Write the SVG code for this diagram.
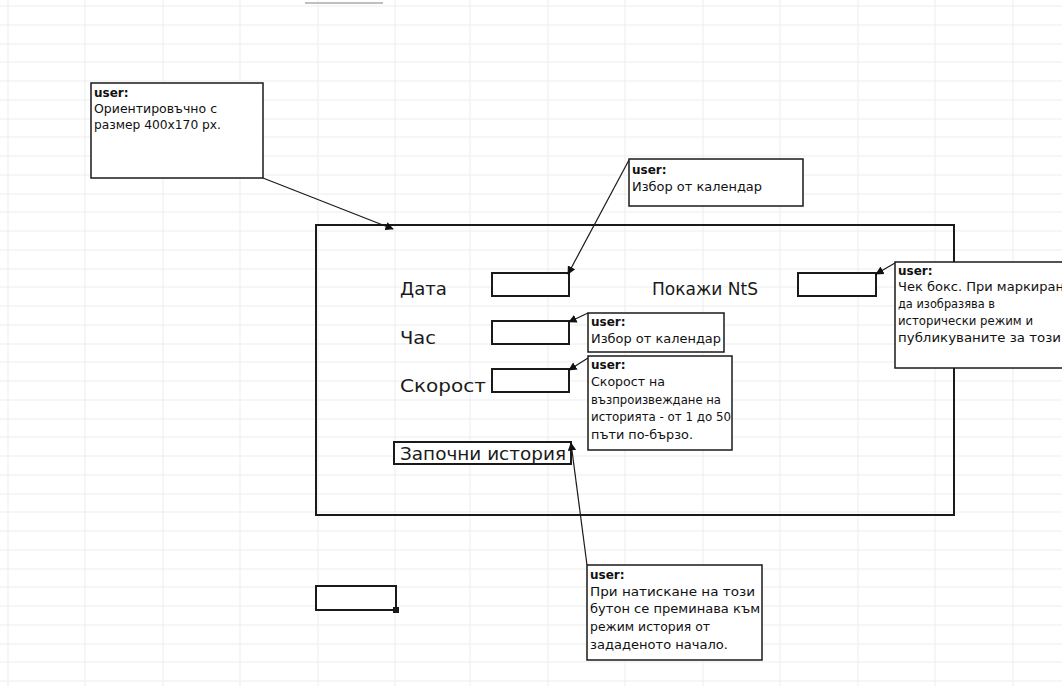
<svg xmlns="http://www.w3.org/2000/svg" width="1062" height="686" viewBox="0 0 1062 686">
<style>
.grid line{stroke:#ededed;stroke-width:1}
.frame{fill:none;stroke:#1a1a1a;stroke-width:2}
.inp{fill:#fff;stroke:#1a1a1a;stroke-width:2}
.note{fill:#fff;stroke:#1a1a1a;stroke-width:1.5}
.lbl{font-family:"DejaVu Sans","Noto Sans",sans-serif;font-size:17px;fill:#1a1a1a}
.nt{font-family:"DejaVu Sans","Noto Sans",sans-serif;font-size:12px;fill:#111}
.nh{font-weight:bold}
.conn{stroke:#1a1a1a;stroke-width:1.2;fill:none}
</style>
<defs>
<marker id="arr" viewBox="0 0 10 10" refX="9" refY="5" markerWidth="7" markerHeight="7" orient="auto">
<path d="M0,0 L10,5 L0,10 z" fill="#111"/>
</marker>
<clipPath id="clipR"><rect x="0" y="0" width="1062" height="686"/></clipPath>
</defs>
<rect x="0" y="0" width="1062" height="686" fill="#fff"/>
<g class="grid">
<line x1="8" y1="0" x2="8" y2="686"/><line x1="85" y1="0" x2="85" y2="686"/><line x1="163" y1="0" x2="163" y2="686"/><line x1="240" y1="0" x2="240" y2="686"/><line x1="318" y1="0" x2="318" y2="686"/><line x1="395" y1="0" x2="395" y2="686"/><line x1="470" y1="0" x2="470" y2="686"/><line x1="548" y1="0" x2="548" y2="686"/><line x1="625" y1="0" x2="625" y2="686"/><line x1="703" y1="0" x2="703" y2="686"/><line x1="780" y1="0" x2="780" y2="686"/><line x1="858" y1="0" x2="858" y2="686"/><line x1="935" y1="0" x2="935" y2="686"/><line x1="1013" y1="0" x2="1013" y2="686"/>
<line x1="0" y1="6" x2="1062" y2="6"/><line x1="0" y1="25" x2="1062" y2="25"/><line x1="0" y1="44" x2="1062" y2="44"/><line x1="0" y1="62" x2="1062" y2="62"/><line x1="0" y1="81" x2="1062" y2="81"/><line x1="0" y1="100" x2="1062" y2="100"/><line x1="0" y1="119" x2="1062" y2="119"/><line x1="0" y1="137" x2="1062" y2="137"/><line x1="0" y1="156" x2="1062" y2="156"/><line x1="0" y1="175" x2="1062" y2="175"/><line x1="0" y1="194" x2="1062" y2="194"/><line x1="0" y1="212" x2="1062" y2="212"/><line x1="0" y1="231" x2="1062" y2="231"/><line x1="0" y1="250" x2="1062" y2="250"/><line x1="0" y1="269" x2="1062" y2="269"/><line x1="0" y1="287" x2="1062" y2="287"/><line x1="0" y1="306" x2="1062" y2="306"/><line x1="0" y1="325" x2="1062" y2="325"/><line x1="0" y1="344" x2="1062" y2="344"/><line x1="0" y1="362" x2="1062" y2="362"/><line x1="0" y1="381" x2="1062" y2="381"/><line x1="0" y1="400" x2="1062" y2="400"/><line x1="0" y1="419" x2="1062" y2="419"/><line x1="0" y1="437" x2="1062" y2="437"/><line x1="0" y1="456" x2="1062" y2="456"/><line x1="0" y1="475" x2="1062" y2="475"/><line x1="0" y1="494" x2="1062" y2="494"/><line x1="0" y1="512" x2="1062" y2="512"/><line x1="0" y1="531" x2="1062" y2="531"/><line x1="0" y1="550" x2="1062" y2="550"/><line x1="0" y1="569" x2="1062" y2="569"/><line x1="0" y1="587" x2="1062" y2="587"/><line x1="0" y1="606" x2="1062" y2="606"/><line x1="0" y1="625" x2="1062" y2="625"/><line x1="0" y1="644" x2="1062" y2="644"/><line x1="0" y1="662" x2="1062" y2="662"/><line x1="0" y1="681" x2="1062" y2="681"/>
</g>
<line x1="305" y1="3" x2="383" y2="3" stroke="#aaa" stroke-width="1.5"/>

<g id="frame"><rect class="frame" x="316" y="225" width="638" height="290"/></g>

<g id="date"><text class="lbl" x="400" y="295" textLength="47" lengthAdjust="spacingAndGlyphs">Дата</text><rect class="inp" x="492" y="273" width="77" height="23"/></g>
<g id="hour"><text class="lbl" x="400" y="344" textLength="36" lengthAdjust="spacingAndGlyphs">Час</text><rect class="inp" x="492" y="321" width="77" height="23"/></g>
<g id="speed"><text class="lbl" x="400" y="392" textLength="86" lengthAdjust="spacingAndGlyphs">Скорост</text><rect class="inp" x="492" y="369" width="77" height="23"/></g>
<g id="nts"><text class="lbl" x="652" y="295" textLength="106" lengthAdjust="spacingAndGlyphs">Покажи NtS</text><rect class="inp" x="798" y="273" width="78" height="23"/></g>
<g id="start"><rect class="inp" x="394" y="442" width="177" height="22"/><text class="lbl" x="400" y="460" textLength="166" lengthAdjust="spacingAndGlyphs">Започни история</text></g>
<g id="small"><rect class="inp" x="316" y="586" width="80" height="24"/><rect x="393" y="607" width="6" height="6" fill="#1a1a1a"/></g>

<g id="connectors">
<line class="conn" x1="263" y1="178" x2="393" y2="229" marker-end="url(#arr)"/>
<line class="conn" x1="629" y1="160" x2="568" y2="274" marker-end="url(#arr)"/>
<line class="conn" x1="895" y1="263" x2="876" y2="274" marker-end="url(#arr)"/>
<line class="conn" x1="588" y1="313" x2="569" y2="322" marker-end="url(#arr)"/>
<line class="conn" x1="588" y1="358" x2="569" y2="370" stroke="#999" marker-end="url(#arr)"/>
<line class="conn" x1="587" y1="565" x2="571" y2="443" marker-end="url(#arr)"/>
</g>

<g id="note1"><rect class="note" x="91" y="83" width="172" height="95"/>
<text class="nt nh" x="94" y="97">user:</text>
<text class="nt" x="94" y="113" textLength="123" lengthAdjust="spacingAndGlyphs">Ориентировъчно с</text>
<text class="nt" x="94" y="129" textLength="127" lengthAdjust="spacingAndGlyphs">размер 400x170 px.</text></g>

<g id="note2"><rect class="note" x="629" y="159" width="174" height="47"/>
<text class="nt nh" x="632" y="174">user:</text>
<text class="nt" x="632" y="191" textLength="130" lengthAdjust="spacingAndGlyphs">Избор от календар</text></g>

<g id="note3" clip-path="url(#clipR)"><rect class="note" x="895" y="262" width="180" height="106"/>
<text class="nt nh" x="898" y="275">user:</text>
<text class="nt" x="898" y="291" textLength="166" lengthAdjust="spacingAndGlyphs">Чек бокс. При маркиран</text>
<text class="nt" x="898" y="308" textLength="97" lengthAdjust="spacingAndGlyphs">да изобразява в</text>
<text class="nt" x="898" y="325" textLength="135" lengthAdjust="spacingAndGlyphs">исторически режим и</text>
<text class="nt" x="898" y="342" textLength="163" lengthAdjust="spacingAndGlyphs">публикуваните за този</text></g>

<g id="note4"><rect class="note" x="588" y="313" width="136" height="39"/>
<text class="nt nh" x="591" y="326">user:</text>
<text class="nt" x="591" y="343" textLength="130" lengthAdjust="spacingAndGlyphs">Избор от календар</text></g>

<g id="note5"><rect class="note" x="588" y="356" width="144" height="94"/>
<text class="nt nh" x="591" y="369">user:</text>
<text class="nt" x="591" y="386" textLength="74" lengthAdjust="spacingAndGlyphs">Скорост на</text>
<text class="nt" x="591" y="404" textLength="130" lengthAdjust="spacingAndGlyphs">възпроизвеждане на</text>
<text class="nt" x="591" y="421" textLength="140" lengthAdjust="spacingAndGlyphs">историята - от  1 до 50</text>
<text class="nt" x="591" y="439" textLength="102" lengthAdjust="spacingAndGlyphs">пъти по-бързо.</text></g>

<g id="note6"><rect class="note" x="587" y="565" width="175" height="95"/>
<text class="nt nh" x="590" y="579">user:</text>
<text class="nt" x="590" y="596" textLength="165" lengthAdjust="spacingAndGlyphs">При натискане на този</text>
<text class="nt" x="590" y="613" textLength="170" lengthAdjust="spacingAndGlyphs">бутон се преминава към</text>
<text class="nt" x="590" y="631" textLength="120" lengthAdjust="spacingAndGlyphs">режим история от</text>
<text class="nt" x="590" y="649" textLength="138" lengthAdjust="spacingAndGlyphs">зададеното начало.</text></g>
</svg>
